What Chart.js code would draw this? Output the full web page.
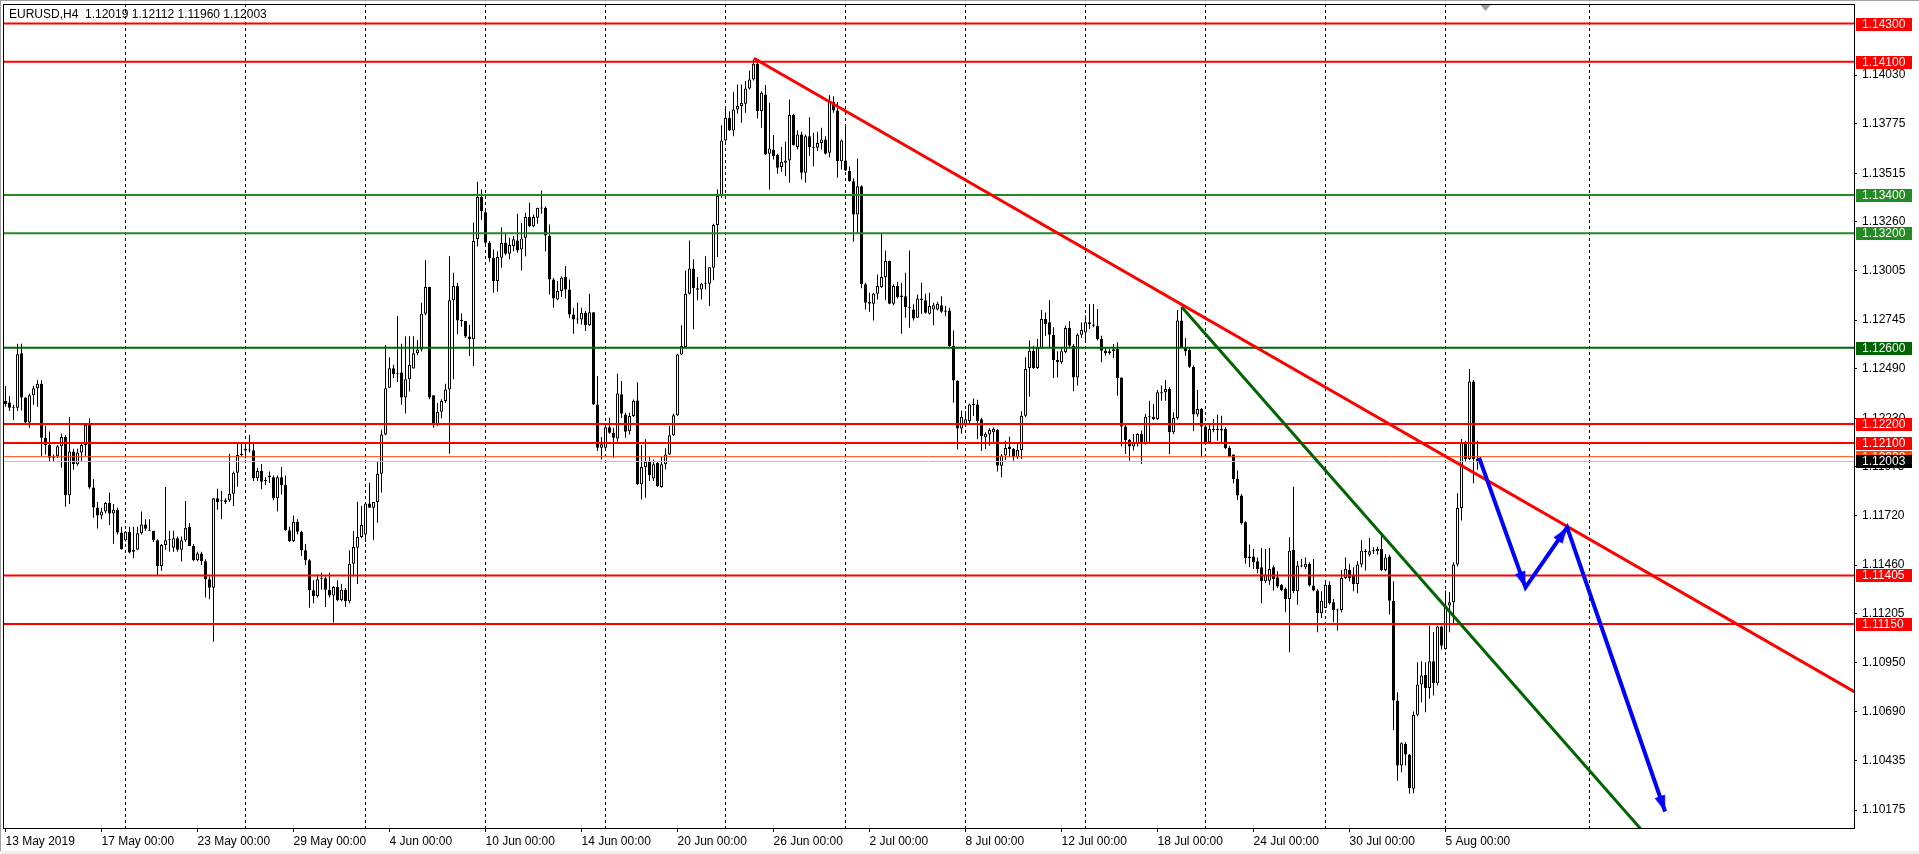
<!DOCTYPE html>
<html><head><meta charset="utf-8">
<script src="https://cdn.jsdelivr.net/npm/chart.js@4/dist/chart.umd.min.js"></script>
<style>html,body{margin:0;padding:0;background:#fff;overflow:hidden}canvas{display:block}</style>
</head><body>
<canvas id="c" width="1919" height="854"></canvas>
<script>
const symbolTitle = 'EURUSD,H4  1.12019 1.12112 1.11960 1.12003';

const opens = [
1.12320,1.12312,1.12285,1.12285,1.12570,1.12338,1.12207,1.12350,1.12387,1.12411,
1.12128,1.12090,1.12023,1.12030,1.12083,1.12131,1.11826,1.12055,1.11988,1.12050,
1.12090,1.12194,1.11866,1.11761,1.11720,1.11740,1.11785,1.11730,1.11750,1.11630,
1.11590,1.11635,1.11530,1.11540,1.11626,1.11673,1.11645,1.11640,1.11590,1.11455,
1.11565,1.11590,1.11550,1.11600,1.11540,1.11590,1.11660,1.11560,1.11485,1.11520,
1.11480,1.11385,1.11341,1.11810,1.11800,1.11800,1.11800,1.11834,1.11944,1.12037,
1.12070,1.12060,1.12062,1.11915,1.11953,1.11900,1.11930,1.11920,1.11810,1.11920,
1.11880,1.11642,1.11586,1.11687,1.11635,1.11537,1.11485,1.11327,1.11298,1.11390,
1.11390,1.11330,1.11300,1.11345,1.11275,1.11330,1.11270,1.11467,1.11550,1.11607,
1.11620,1.11782,1.11760,1.11790,1.11939,1.12145,1.12390,1.12492,1.12460,1.12470,
1.12338,1.12434,1.12490,1.12570,1.12590,1.12778,1.12918,1.12350,1.12198,1.12264,
1.12320,1.12381,1.12848,1.12923,1.12743,1.12740,1.12658,1.12644,1.13170,1.13390,
1.13310,1.13150,1.13071,1.12949,1.13071,1.13150,1.13092,1.13133,1.13162,1.13115,
1.13176,1.13285,1.13237,1.13281,1.13334,1.13334,1.13185,1.12958,1.12853,1.12897,
1.12970,1.12905,1.12774,1.12751,1.12748,1.12783,1.12717,1.12786,1.12302,1.12075,
1.12075,1.12183,1.12154,1.12124,1.12355,1.12250,1.12162,1.12241,1.12323,1.11883,
1.11974,1.12002,1.11914,1.11996,1.11869,1.11988,1.12040,1.12141,1.12246,1.12564,
1.12603,1.12883,1.13015,1.12911,1.12905,1.12935,1.12935,1.13019,1.13243,1.13395,
1.13687,1.13806,1.13739,1.13849,1.13867,1.13879,1.13959,1.14007,1.14089,1.13841,
1.13928,1.13617,1.13639,1.13610,1.13547,1.13570,1.13582,1.13820,1.13652,1.13718,
1.13517,1.13709,1.13652,1.13648,1.13674,1.13692,1.13622,1.13889,1.13844,1.13578,
1.13582,1.13526,1.13473,1.13299,1.13447,1.12932,1.12841,1.12830,1.12883,1.12918,
1.12970,1.13054,1.12830,1.12923,1.12865,1.12870,1.12813,1.12800,1.12757,1.12858,
1.12848,1.12778,1.12800,1.12800,1.12823,1.12795,1.12795,1.12608,1.12428,1.12176,
1.12201,1.12215,1.12302,1.12302,1.12224,1.12130,1.12144,1.12156,1.12168,1.11981,
1.12034,1.12081,1.12069,1.12025,1.12063,1.12243,1.12493,1.12584,1.12493,1.12598,
1.12750,1.12733,1.12668,1.12535,1.12523,1.12576,1.12703,1.12610,1.12444,1.12668,
1.12680,1.12733,1.12721,1.12715,1.12645,1.12584,1.12570,1.12581,1.12593,1.12444,
1.12186,1.12116,1.12081,1.12098,1.12147,1.12098,1.12235,1.12226,1.12226,1.12361,
1.12366,1.12383,1.12156,1.12231,1.12742,1.12602,1.12588,1.12500,1.12249,1.12278,
1.12186,1.12104,1.12173,1.12168,1.12173,1.12173,1.12074,1.12039,1.11911,1.11824,
1.11684,1.11504,1.11504,1.11480,1.11448,1.11375,1.11378,1.11448,1.11396,1.11357,
1.11334,1.11282,1.11539,1.11322,1.11457,1.11448,1.11466,1.11352,1.11326,1.11207,
1.11235,1.11357,1.11265,1.11224,1.11224,1.11392,1.11434,1.11410,1.11361,1.11462,
1.11535,1.11514,1.11532,1.11532,1.11544,1.11434,1.11504,1.11273,1.10749,1.10408,
1.10522,1.10466,1.10286,1.10675,1.10833,1.10885,1.10815,1.10955,1.10840,1.11137,
1.11020,1.11247,1.11265,1.11462,1.11759,1.12098,1.12016,1.12423,1.12019
];
const highs = [
1.12399,1.12347,1.12300,1.12621,1.12620,1.12340,1.12360,1.12400,1.12430,1.12430,
1.12190,1.12160,1.12040,1.12090,1.12150,1.12140,1.12236,1.12070,1.12070,1.12100,
1.12200,1.12230,1.11910,1.11790,1.11760,1.11790,1.11840,1.11780,1.11760,1.11660,
1.11638,1.11660,1.11660,1.11660,1.11740,1.11700,1.11700,1.11640,1.11595,1.11570,
1.11869,1.11640,1.11640,1.11610,1.11610,1.11796,1.11680,1.11570,1.11530,1.11530,
1.11490,1.11400,1.11810,1.11860,1.11850,1.11810,1.12044,1.11950,1.12097,1.12100,
1.12090,1.12142,1.12100,1.11970,1.11990,1.11920,1.11950,1.11930,1.11930,1.11974,
1.11930,1.11660,1.11720,1.11700,1.11640,1.11570,1.11490,1.11380,1.11410,1.11420,
1.11400,1.11420,1.11350,1.11380,1.11360,1.11340,1.11537,1.11638,1.11792,1.11770,
1.11790,1.11892,1.11790,1.12000,1.12170,1.12614,1.12550,1.12510,1.12766,1.12620,
1.12660,1.12660,1.12660,1.12640,1.12836,1.13060,1.12920,1.12350,1.12310,1.12330,
1.12410,1.13080,1.12993,1.12940,1.12780,1.12740,1.12720,1.13256,1.13470,1.13430,
1.13330,1.13160,1.13115,1.13106,1.13232,1.13202,1.13176,1.13185,1.13302,1.13255,
1.13307,1.13360,1.13299,1.13334,1.13424,1.13342,1.13246,1.12966,1.12949,1.12975,
1.13028,1.12958,1.12809,1.12835,1.12809,1.12792,1.12883,1.12786,1.12451,1.12131,
1.12201,1.12232,1.12180,1.12463,1.12425,1.12259,1.12259,1.12328,1.12419,1.12089,
1.12119,1.12026,1.12014,1.12002,1.12026,1.12072,1.12189,1.12253,1.12568,1.12718,
1.13005,1.13162,1.13063,1.12970,1.12940,1.13080,1.13022,1.13250,1.13430,1.13767,
1.13861,1.13840,1.13942,1.13980,1.13980,1.13998,1.14054,1.14111,1.14103,1.13945,
1.13977,1.13884,1.13715,1.13617,1.13652,1.13680,1.13902,1.13827,1.13739,1.13732,
1.13718,1.13809,1.13727,1.13732,1.13753,1.13709,1.13924,1.13919,1.13889,1.13692,
1.13771,1.13552,1.13487,1.13592,1.13452,1.12940,1.12888,1.12888,1.12984,1.13197,
1.13110,1.13057,1.12932,1.12946,1.12940,1.12993,1.13110,1.12827,1.12879,1.12940,
1.12883,1.12888,1.12835,1.12841,1.12870,1.12818,1.12809,1.12690,1.12428,1.12271,
1.12267,1.12306,1.12333,1.12327,1.12232,1.12156,1.12179,1.12182,1.12173,1.12042,
1.12112,1.12133,1.12074,1.12098,1.12266,1.12549,1.12637,1.12610,1.12645,1.12798,
1.12785,1.12850,1.12707,1.12581,1.12598,1.12715,1.12738,1.12619,1.12675,1.12733,
1.12768,1.12829,1.12829,1.12803,1.12663,1.12598,1.12593,1.12619,1.12628,1.12444,
1.12196,1.12121,1.12147,1.12151,1.12165,1.12252,1.12322,1.12305,1.12378,1.12401,
1.12430,1.12392,1.12261,1.12798,1.12812,1.12651,1.12598,1.12506,1.12378,1.12284,
1.12200,1.12196,1.12226,1.12249,1.12243,1.12182,1.12086,1.12039,1.11955,1.11833,
1.11689,1.11567,1.11544,1.11500,1.11549,1.11544,1.11549,1.11457,1.11427,1.11361,
1.11343,1.11605,1.11871,1.11480,1.11492,1.11500,1.11474,1.11492,1.11334,1.11322,
1.11375,1.11375,1.11282,1.11230,1.11434,1.11500,1.11466,1.11448,1.11480,1.11591,
1.11544,1.11602,1.11553,1.11556,1.11619,1.11518,1.11514,1.11375,1.10793,1.10530,
1.10530,1.10469,1.10692,1.10950,1.10955,1.10950,1.11142,1.11107,1.11142,1.11142,
1.11326,1.11317,1.11474,1.11836,1.12121,1.12112,1.12488,1.12430,1.12112
];
const lows = [
1.12290,1.12268,1.12220,1.12268,1.12270,1.12200,1.12180,1.12300,1.12290,1.12030,
1.12040,1.12000,1.12000,1.12020,1.11970,1.11766,1.11780,1.11960,1.11980,1.12000,
1.12030,1.11860,1.11708,1.11651,1.11700,1.11730,1.11670,1.11572,1.11620,1.11540,
1.11583,1.11520,1.11495,1.11540,1.11620,1.11640,1.11640,1.11580,1.11408,1.11430,
1.11540,1.11530,1.11530,1.11530,1.11478,1.11580,1.11560,1.11480,1.11480,1.11460,
1.11289,1.11280,1.11058,1.11750,1.11700,1.11780,1.11790,1.11770,1.11870,1.12030,
1.12020,1.12050,1.11900,1.11900,1.11857,1.11880,1.11890,1.11800,1.11740,1.11830,
1.11640,1.11580,1.11580,1.11620,1.11507,1.11460,1.11236,1.11260,1.11290,1.11330,
1.11240,1.11290,1.11158,1.11270,1.11270,1.11240,1.11260,1.11400,1.11360,1.11600,
1.11580,1.11760,1.11590,1.11682,1.11840,1.12140,1.12390,1.12440,1.12420,1.12300,
1.12254,1.12370,1.12490,1.12560,1.12580,1.12770,1.12330,1.12180,1.12190,1.12230,
1.12310,1.12044,1.12434,1.12670,1.12710,1.12650,1.12556,1.12504,1.13130,1.13270,
1.13130,1.13050,1.12888,1.12893,1.13019,1.13085,1.13063,1.13106,1.13098,1.13005,
1.13080,1.13232,1.13232,1.13250,1.13302,1.13106,1.12879,1.12809,1.12848,1.12865,
1.12858,1.12757,1.12673,1.12725,1.12722,1.12687,1.12713,1.12299,1.12058,1.12014,
1.12066,1.12148,1.12023,1.12106,1.12232,1.12127,1.12145,1.12236,1.11879,1.11804,
1.11813,1.11900,1.11900,1.11869,1.11865,1.11961,1.12037,1.12136,1.12241,1.12561,
1.12599,1.12879,1.12696,1.12848,1.12853,1.12905,1.12818,1.12953,1.13075,1.13386,
1.13680,1.13736,1.13709,1.13827,1.13779,1.13832,1.13954,1.14001,1.13802,1.13753,
1.13610,1.13430,1.13587,1.13512,1.13522,1.13500,1.13465,1.13660,1.13639,1.13482,
1.13465,1.13605,1.13552,1.13631,1.13639,1.13613,1.13599,1.13832,1.13491,1.13535,
1.13526,1.13470,1.13155,1.13197,1.12911,1.12800,1.12788,1.12743,1.12853,1.12914,
1.12848,1.12827,1.12823,1.12858,1.12673,1.12757,1.12704,1.12743,1.12757,1.12778,
1.12778,1.12774,1.12718,1.12795,1.12783,1.12765,1.12603,1.12311,1.12066,1.12148,
1.12197,1.12201,1.12241,1.12119,1.12058,1.12069,1.12086,1.12098,1.11951,1.11920,
1.12011,1.12028,1.12007,1.12016,1.12016,1.12235,1.12343,1.12488,1.12488,1.12593,
1.12663,1.12598,1.12441,1.12444,1.12514,1.12570,1.12598,1.12371,1.12401,1.12651,
1.12628,1.12698,1.12707,1.12637,1.12523,1.12558,1.12563,1.12546,1.12348,1.12081,
1.12042,1.12007,1.12060,1.12081,1.11990,1.12091,1.12104,1.12221,1.12221,1.12322,
1.12322,1.12042,1.12147,1.12221,1.12598,1.12558,1.12493,1.12161,1.12238,1.12025,
1.12098,1.12095,1.12156,1.12112,1.12104,1.12069,1.12025,1.11889,1.11801,1.11672,
1.11466,1.11448,1.11439,1.11417,1.11259,1.11364,1.11357,1.11326,1.11340,1.11322,
1.11212,1.11002,1.11312,1.11252,1.11448,1.11439,1.11347,1.11322,1.11107,1.11182,
1.11235,1.11252,1.11160,1.11116,1.11212,1.11387,1.11375,1.11322,1.11312,1.11448,
1.11431,1.11504,1.11518,1.11514,1.11427,1.11427,1.11200,1.10595,1.10329,1.10373,
1.10408,1.10260,1.10263,1.10665,1.10740,1.10688,1.10758,1.10775,1.10828,1.11015,
1.11015,1.11107,1.11154,1.11452,1.11693,1.12004,1.12011,1.11889,1.11960
];
const closes = [
1.12303,1.12285,1.12288,1.12565,1.12338,1.12207,1.12350,1.12387,1.12411,1.12128,
1.12090,1.12023,1.12030,1.12083,1.12131,1.11826,1.12055,1.11988,1.12050,1.12090,
1.12194,1.11866,1.11761,1.11720,1.11740,1.11785,1.11730,1.11750,1.11630,1.11542,
1.11635,1.11525,1.11540,1.11626,1.11673,1.11650,1.11640,1.11590,1.11455,1.11565,
1.11590,1.11592,1.11600,1.11540,1.11590,1.11656,1.11560,1.11485,1.11520,1.11480,
1.11385,1.11341,1.11810,1.11790,1.11795,1.11790,1.11834,1.11944,1.12037,1.12042,
1.12060,1.12062,1.11915,1.11953,1.11897,1.11902,1.11920,1.11810,1.11920,1.11880,
1.11642,1.11586,1.11687,1.11635,1.11537,1.11485,1.11327,1.11298,1.11385,1.11385,
1.11330,1.11300,1.11345,1.11275,1.11330,1.11270,1.11467,1.11555,1.11607,1.11670,
1.11782,1.11760,1.11790,1.11939,1.12145,1.12387,1.12492,1.12460,1.12462,1.12338,
1.12434,1.12509,1.12570,1.12590,1.12778,1.12918,1.12338,1.12198,1.12264,1.12320,
1.12381,1.12848,1.12923,1.12743,1.12740,1.12658,1.12644,1.13160,1.13390,1.13317,
1.13150,1.13069,1.12949,1.13075,1.13150,1.13092,1.13138,1.13168,1.13110,1.13173,
1.13285,1.13237,1.13285,1.13334,1.13330,1.13188,1.12958,1.12858,1.12897,1.12966,
1.12905,1.12774,1.12748,1.12748,1.12783,1.12717,1.12786,1.12302,1.12075,1.12093,
1.12183,1.12154,1.12127,1.12360,1.12253,1.12159,1.12241,1.12320,1.11883,1.11974,
1.12002,1.11932,1.11988,1.11874,1.11988,1.12040,1.12141,1.12246,1.12564,1.12608,
1.12883,1.13015,1.12911,1.12904,1.12935,1.12939,1.13022,1.13243,1.13395,1.13687,
1.13806,1.13739,1.13849,1.13867,1.13884,1.13959,1.14007,1.14089,1.13841,1.13937,
1.13613,1.13645,1.13605,1.13543,1.13575,1.13582,1.13820,1.13662,1.13718,1.13517,
1.13709,1.13652,1.13648,1.13674,1.13692,1.13617,1.13889,1.13844,1.13578,1.13687,
1.13529,1.13473,1.13299,1.13447,1.12932,1.12835,1.12830,1.12883,1.12923,1.12970,
1.13054,1.12830,1.12923,1.12865,1.12874,1.12813,1.12809,1.12753,1.12858,1.12848,
1.12783,1.12818,1.12823,1.12830,1.12788,1.12788,1.12608,1.12428,1.12176,1.12236,
1.12224,1.12302,1.12299,1.12215,1.12136,1.12147,1.12168,1.12173,1.11981,1.12034,
1.12074,1.12069,1.12025,1.12063,1.12243,1.12488,1.12584,1.12493,1.12598,1.12750,
1.12724,1.12668,1.12535,1.12523,1.12581,1.12703,1.12610,1.12444,1.12668,1.12693,
1.12733,1.12724,1.12715,1.12645,1.12584,1.12570,1.12581,1.12591,1.12441,1.12186,
1.12116,1.12081,1.12104,1.12147,1.12095,1.12238,1.12238,1.12238,1.12366,1.12366,
1.12383,1.12156,1.12231,1.12742,1.12598,1.12581,1.12500,1.12249,1.12278,1.12186,
1.12104,1.12173,1.12165,1.12168,1.12165,1.12074,1.12028,1.11911,1.11824,1.11679,
1.11497,1.11497,1.11474,1.11439,1.11375,1.11410,1.11439,1.11387,1.11347,1.11329,
1.11282,1.11535,1.11322,1.11457,1.11452,1.11466,1.11352,1.11326,1.11207,1.11273,
1.11357,1.11259,1.11224,1.11221,1.11392,1.11439,1.11392,1.11361,1.11462,1.11535,
1.11527,1.11532,1.11532,1.11544,1.11434,1.11500,1.11273,1.10749,1.10408,1.10525,
1.10466,1.10291,1.10675,1.10833,1.10880,1.10815,1.10955,1.10840,1.11137,1.11037,
1.11247,1.11265,1.11462,1.11759,1.12104,1.12016,1.12423,1.12016,1.12003
];

const timeTickIdx = [0,24,48,72,96,120,144,168,192,216,240,264,288,312,336,360];
const timeTickLabels = ['13 May 2019','17 May 00:00','23 May 00:00','29 May 00:00','4 Jun 00:00','10 Jun 00:00','14 Jun 00:00','20 Jun 00:00','26 Jun 00:00','2 Jul 00:00','8 Jul 00:00','12 Jul 00:00','18 Jul 00:00','24 Jul 00:00','30 Jul 00:00','5 Aug 00:00'];
const gridIdx = [30,60,90,120,150,180,210,240,270,300,330,360,396];
const priceTicks = [1.14030,1.13775,1.13515,1.13260,1.13005,1.12745,1.12490,1.12230,1.11975,1.11720,1.11460,1.11205,1.10950,1.10690,1.10435,1.10175];

const levelPrices = [1.14300,1.14100,1.13400,1.13200,1.12600,1.12200,1.12100,1.11405,1.11150];
const levelColors = ['#FF0000','#FF0000','#228B22','#228B22','#006400','#FF0000','#FF0000','#FF0000','#FF0000'];
const askPrice = 1.12028;
const bidPrice = 1.12003;

const redTrendX = [187.1, 462.3];
const redTrendY = [1.14118, 1.10794];
const greenTrendX = [294, 415];
const greenTrendY = [1.12815, 1.09928];
const arrowX = [368.4, 380.0, 390.4, 414.9];
const arrowY = [1.12023, 1.11342, 1.11657, 1.10167];
const shiftMarkIdx = 369.9;

// ---- view / layout ----
const X_MIN = -0.625, X_MAX = 462.125;
const Y_MIN = 1.100806, Y_MAX = 1.144024;
const FONT = "'Liberation Sans', Arial, sans-serif";

const N = opens.length;
if (highs.length !== N || lows.length !== N || closes.length !== N) {
  throw new Error('length mismatch ' + [opens.length, highs.length, lows.length, closes.length].join(','));
}
const idx = Array.from({length: N}, (_, i) => i);

function hline(p, color, width) {
  return {type: 'line', xAxisID: 'x', yAxisID: 'y', order: 1,
    data: [{x: X_MIN, y: p}, {x: X_MAX, y: p}],
    borderColor: color, borderWidth: width, pointRadius: 0, fill: false};
}

function makeArrowHead(len, half, color) {
  const c = document.createElement('canvas');
  const s = Math.ceil(len * 2 + 4);
  c.width = s; c.height = s;
  const g = c.getContext('2d');
  const cx = s / 2, cy = s / 2;
  g.fillStyle = color;
  g.beginPath();
  g.moveTo(cx, cy);
  g.lineTo(cx - half, cy + len);
  g.lineTo(cx + half, cy + len);
  g.closePath();
  g.fill();
  return c;
}
const arrowHead = makeArrowHead(16, 5.5, '#0000FF');

const datasets = [];
levelPrices.forEach((p, k) => datasets.push(hline(p, levelColors[k], 2)));
datasets.push(hline(askPrice, '#FF4500', 1));
datasets.push(hline(bidPrice, '#C0C0C0', 1));
datasets.push({type: 'line', xAxisID: 'x', yAxisID: 'y', order: 0,
  data: redTrendX.map((x, k) => ({x, y: redTrendY[k]})),
  borderColor: '#FF0000', borderWidth: 3, pointRadius: 0});
datasets.push({type: 'line', xAxisID: 'x', yAxisID: 'y', order: 0,
  data: greenTrendX.map((x, k) => ({x, y: greenTrendY[k]})),
  borderColor: '#006400', borderWidth: 3, pointRadius: 0});
datasets.push({type: 'line', xAxisID: 'x', yAxisID: 'y', order: -1,
  data: arrowX.map((x, k) => ({x, y: arrowY[k]})),
  borderColor: '#0000FF', borderWidth: 4, borderJoinStyle: 'miter',
  pointRadius: (c) => c.dataIndex === 0 ? 0 : 6,
  pointStyle: (c) => c.dataIndex === 0 ? 'circle' : arrowHead,
  pointRotation: (c) => {
    const i = c.dataIndex;
    if (!i) return 0;
    const xs = c.chart.scales.x, ys = c.chart.scales.y;
    const dx = xs.getPixelForValue(arrowX[i]) - xs.getPixelForValue(arrowX[i - 1]);
    const dy = ys.getPixelForValue(arrowY[i]) - ys.getPixelForValue(arrowY[i - 1]);
    return Math.atan2(dy, dx) * 180 / Math.PI + 90;
  }});
datasets.push({type: 'bar', xAxisID: 'x', yAxisID: 'y', order: 20, label: 'wick',
  data: idx.map(i => ({x: i, y: [lows[i], highs[i]]})),
  backgroundColor: '#000', borderWidth: 0, barThickness: 1, maxBarThickness: 1,
  barPercentage: 1, categoryPercentage: 1, grouped: false,
  inflateAmount: 0, minBarLength: 1, borderSkipped: false});
datasets.push({type: 'bar', xAxisID: 'x', yAxisID: 'y', order: 10, label: 'body',
  data: idx.map(i => ({x: i, y: [opens[i], closes[i]]})),
  backgroundColor: idx.map(i => closes[i] >= opens[i] ? '#FFFFFF' : '#000000'),
  borderColor: '#000', borderWidth: 1, barThickness: 3, maxBarThickness: 3,
  barPercentage: 1, categoryPercentage: 1, grouped: false,
  inflateAmount: 0, minBarLength: 1, borderSkipped: false});

function noPad(s) { s.paddingLeft = 0; s.paddingRight = 0; s.paddingTop = 0; s.paddingBottom = 0; }

const overlay = {
  id: 'mt4overlay',
  beforeDraw(chart) {
    const g = chart.ctx;
    g.save();
    g.fillStyle = '#FFFFFF';
    g.fillRect(0, 0, chart.width, chart.height);
    g.restore();
  },
  afterDraw(chart) {
    const g = chart.ctx, a = chart.chartArea, ys = chart.scales.y, xs = chart.scales.x;
    g.save();
    // frame
    g.strokeStyle = '#000'; g.lineWidth = 1;
    g.strokeRect(a.left + 0.5, a.top + 0.5, a.right - a.left, a.bottom - a.top);
    // window border
    g.strokeStyle = '#A0A0A0';
    g.beginPath(); g.moveTo(0.5, 0); g.lineTo(0.5, chart.height); g.moveTo(0, 0.5); g.lineTo(chart.width, 0.5); g.stroke();
    g.fillStyle = '#F0F0F0'; g.fillRect(0, chart.height - 3, chart.width, 3);
    // header
    g.fillStyle = '#000';
    g.font = '12px ' + FONT;
    g.textBaseline = 'middle'; g.textAlign = 'left';
    g.fillText(symbolTitle, a.left + 6, a.top + 11);
    // shift marker
    const sx = Math.round(xs.getPixelForValue(shiftMarkIdx)) + 0.5;
    g.fillStyle = '#A0A0A0';
    g.beginPath(); g.moveTo(sx - 5, a.top + 1); g.lineTo(sx + 5, a.top + 1); g.lineTo(sx, a.top + 7); g.closePath(); g.fill();
    // price labels
    const labels = levelPrices.map((p, k) => [p, levelColors[k]]);
    labels.push([askPrice, '#FF4500']);
    labels.push([bidPrice, '#000000']);
    labels.forEach(([p, col]) => {
      const y = Math.round(ys.getPixelForValue(p));
      g.fillStyle = col;
      g.fillRect(a.right + 2, y - 6, 56, 13);
      g.fillStyle = '#FFFFFF';
      g.fillText(p.toFixed(5), a.right + 8, y + 1);
    });
    g.restore();
  }
};

new Chart(document.getElementById('c'), {
  type: 'bar',
  data: {datasets},
  options: {
    responsive: false, animation: false, devicePixelRatio: 1, events: [],
    layout: {autoPadding: false, padding: {left: 3, top: 4, right: 0, bottom: 0}},
    plugins: {legend: {display: false}, tooltip: {enabled: false}, title: {display: false}},
    scales: {
      x: {
        type: 'linear', position: 'bottom', min: X_MIN, max: X_MAX, offset: false,
        grid: {drawOnChartArea: false, drawTicks: true, tickLength: 4, color: '#000', offset: false},
        border: {display: true, color: '#000'},
        ticks: {autoSkip: false, maxRotation: 0, minRotation: 0, align: 'start', padding: 2, color: '#000',
          font: {family: FONT, size: 12},
          callback: (v) => { const k = timeTickIdx.indexOf(v); return k >= 0 ? timeTickLabels[k] : ''; }},
        afterBuildTicks: (s) => { s.ticks = timeTickIdx.map(v => ({value: v})); },
        afterFit: (s) => { s.height = 26; noPad(s); }
      },
      xg: {
        type: 'linear', position: 'top', min: X_MIN, max: X_MAX, offset: false,
        grid: {drawOnChartArea: true, drawTicks: false, color: '#000', lineWidth: 1, offset: false},
        border: {display: false, dash: [3, 3]},
        ticks: {display: false},
        afterBuildTicks: (s) => { s.ticks = gridIdx.map(v => ({value: v})); },
        afterFit: (s) => { s.height = 0; noPad(s); }
      },
      y: {
        type: 'linear', position: 'right', min: Y_MIN, max: Y_MAX, beginAtZero: false,
        grid: {drawOnChartArea: false, drawTicks: true, tickLength: 3, color: '#000'},
        border: {display: true, color: '#000'},
        ticks: {autoSkip: false, padding: 5, color: '#000', font: {family: FONT, size: 12},
          callback: (v) => Number(v).toFixed(5)},
        afterBuildTicks: (s) => { s.ticks = priceTicks.map(v => ({value: v})); },
        afterFit: (s) => { s.width = 65; noPad(s); }
      }
    }
  },
  plugins: [overlay]
});
</script>
</body></html>
